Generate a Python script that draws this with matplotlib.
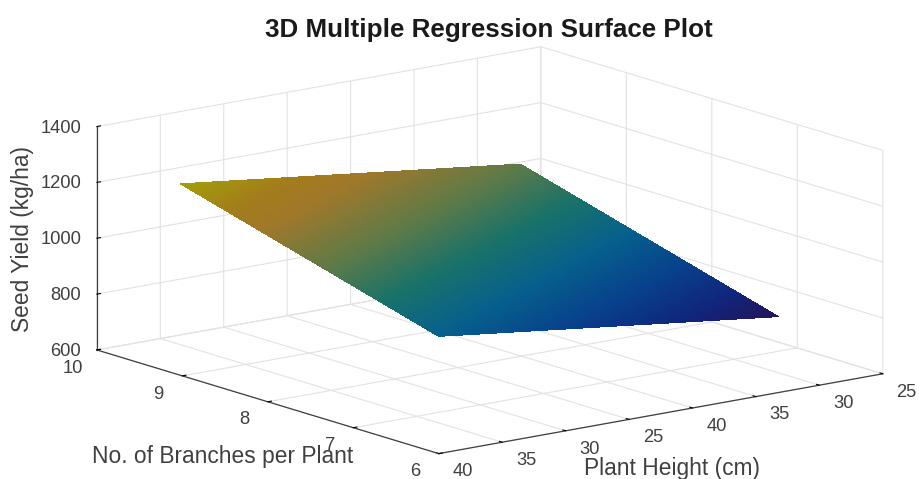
import numpy as np
import matplotlib
matplotlib.use("Agg")
import matplotlib.pyplot as plt
from matplotlib.colors import LinearSegmentedColormap

plt.rcParams['font.family'] = ['Liberation Sans', 'DejaVu Sans']

# tick labels as printed on the figure (the height labels repeat along the axis)
height_ticks = [0, 1, 2, 3, 4, 5, 6, 7]
height_labels = ['40', '35', '30', '25', '40', '35', '30', '25']
branch_ticks = [6, 7, 8, 9, 10]
yield_ticks = [600, 800, 1000, 1200, 1400]

# corners of the fitted plane
height_pos = [0.67, 6.03]
branches = [6.5, 9.52]
yield_corners = [[946, 798],
                 [1212, 1064]]

colour_stops = [(0.00, '#24145a'), (0.10, '#10257c'), (0.22, '#08408c'),
                (0.36, '#06608c'), (0.50, '#1a7268'), (0.64, '#5f7a48'),
                (0.80, '#a0782a'), (0.88, '#a37c1c'), (1.00, '#a2a008')]
cmap = LinearSegmentedColormap.from_list('surface_map', colour_stops)

W, H = 919, 479
fig = plt.figure(figsize=(W / 100, H / 100), dpi=100, facecolor='white')

# axes box is forced square, so it hangs over the figure edges
side = 801
cx, cy = 479, 218
ax = fig.add_axes([(cx - side / 2) / W, (cy - side / 2) / H, side / W, side / H],
                  projection='3d', proj_type='ortho')
ax.patch.set_alpha(0)
ax.view_init(elev=13.5, azim=-127.6)
ax.set_box_aspect((1, 1, 0.41), zoom=1.0)

# subdivide only so the colour shades smoothly across the plane
s = np.linspace(0, 1, 80)
u, v = np.meshgrid(s, s)
X = height_pos[0] + (height_pos[1] - height_pos[0]) * u
Y = branches[0] + (branches[1] - branches[0]) * v
c = np.array(yield_corners, dtype=float)
Z = (c[0, 0] * (1 - u) * (1 - v) + c[0, 1] * u * (1 - v)
     + c[1, 0] * (1 - u) * v + c[1, 1] * u * v)
colours = cmap((Z - Z.min()) / (Z.max() - Z.min()))
ax.plot_surface(X, Y, Z, facecolors=colours, rstride=1, cstride=1,
                linewidth=0, antialiased=False, shade=False)

ax.set_xlim(0, 7)
ax.set_ylim(6, 10)
ax.set_zlim(600, 1400)
ax.set_xticks(height_ticks)
ax.set_xticklabels(height_labels)
ax.set_yticks(branch_ticks)
ax.set_zticks(yield_ticks)

for axis in (ax.xaxis, ax.yaxis, ax.zaxis):
    axis.set_pane_color((1, 1, 1, 0))
    axis.pane.set_edgecolor('#dddddd')
    axis.line.set_color('#404040')
    axis.line.set_linewidth(0.9)
    axis._axinfo['grid'].update(color='#e2e2e2', linewidth=0.8)
    axis._axinfo['tick'].update(inward_factor=0.0, outward_factor=0.1,
                                color='#404040', linewidth={True: 0.8, False: 0.5})

ax.tick_params(axis='both', labelsize=13.2, labelcolor='#404040', pad=8)
ax.tick_params(axis='x', pad=13)
ax.tick_params(axis='z', pad=-2)
plt.setp(ax.get_zticklabels(), ha='right', va='center_baseline')
plt.setp(ax.get_xticklabels(), va='baseline')
plt.setp(ax.get_yticklabels(), va='center_baseline')

# axis labels sit at fixed places in the original, not centred on the axes
label_colour = '#404040'
fig.text(672 / W, 1 - 469 / H, 'Plant Height (cm)', fontsize=16.4, color=label_colour,
         ha='center', va='center')
fig.text(223 / W, 1 - 457 / H, 'No. of Branches per Plant', fontsize=16.4, color=label_colour,
         ha='center', va='center')
fig.text(23 / W, 1 - 239 / H, 'Seed Yield (kg/ha)', fontsize=16.4, color=label_colour,
         rotation=90, ha='center', va='center')

fig.text(489 / W, 1 - 30 / H, '3D Multiple Regression Surface Plot', fontsize=18.7,
         fontweight='bold', color='#1a1a1a', ha='center', va='center')

fig.savefig('out.png', dpi=100)
